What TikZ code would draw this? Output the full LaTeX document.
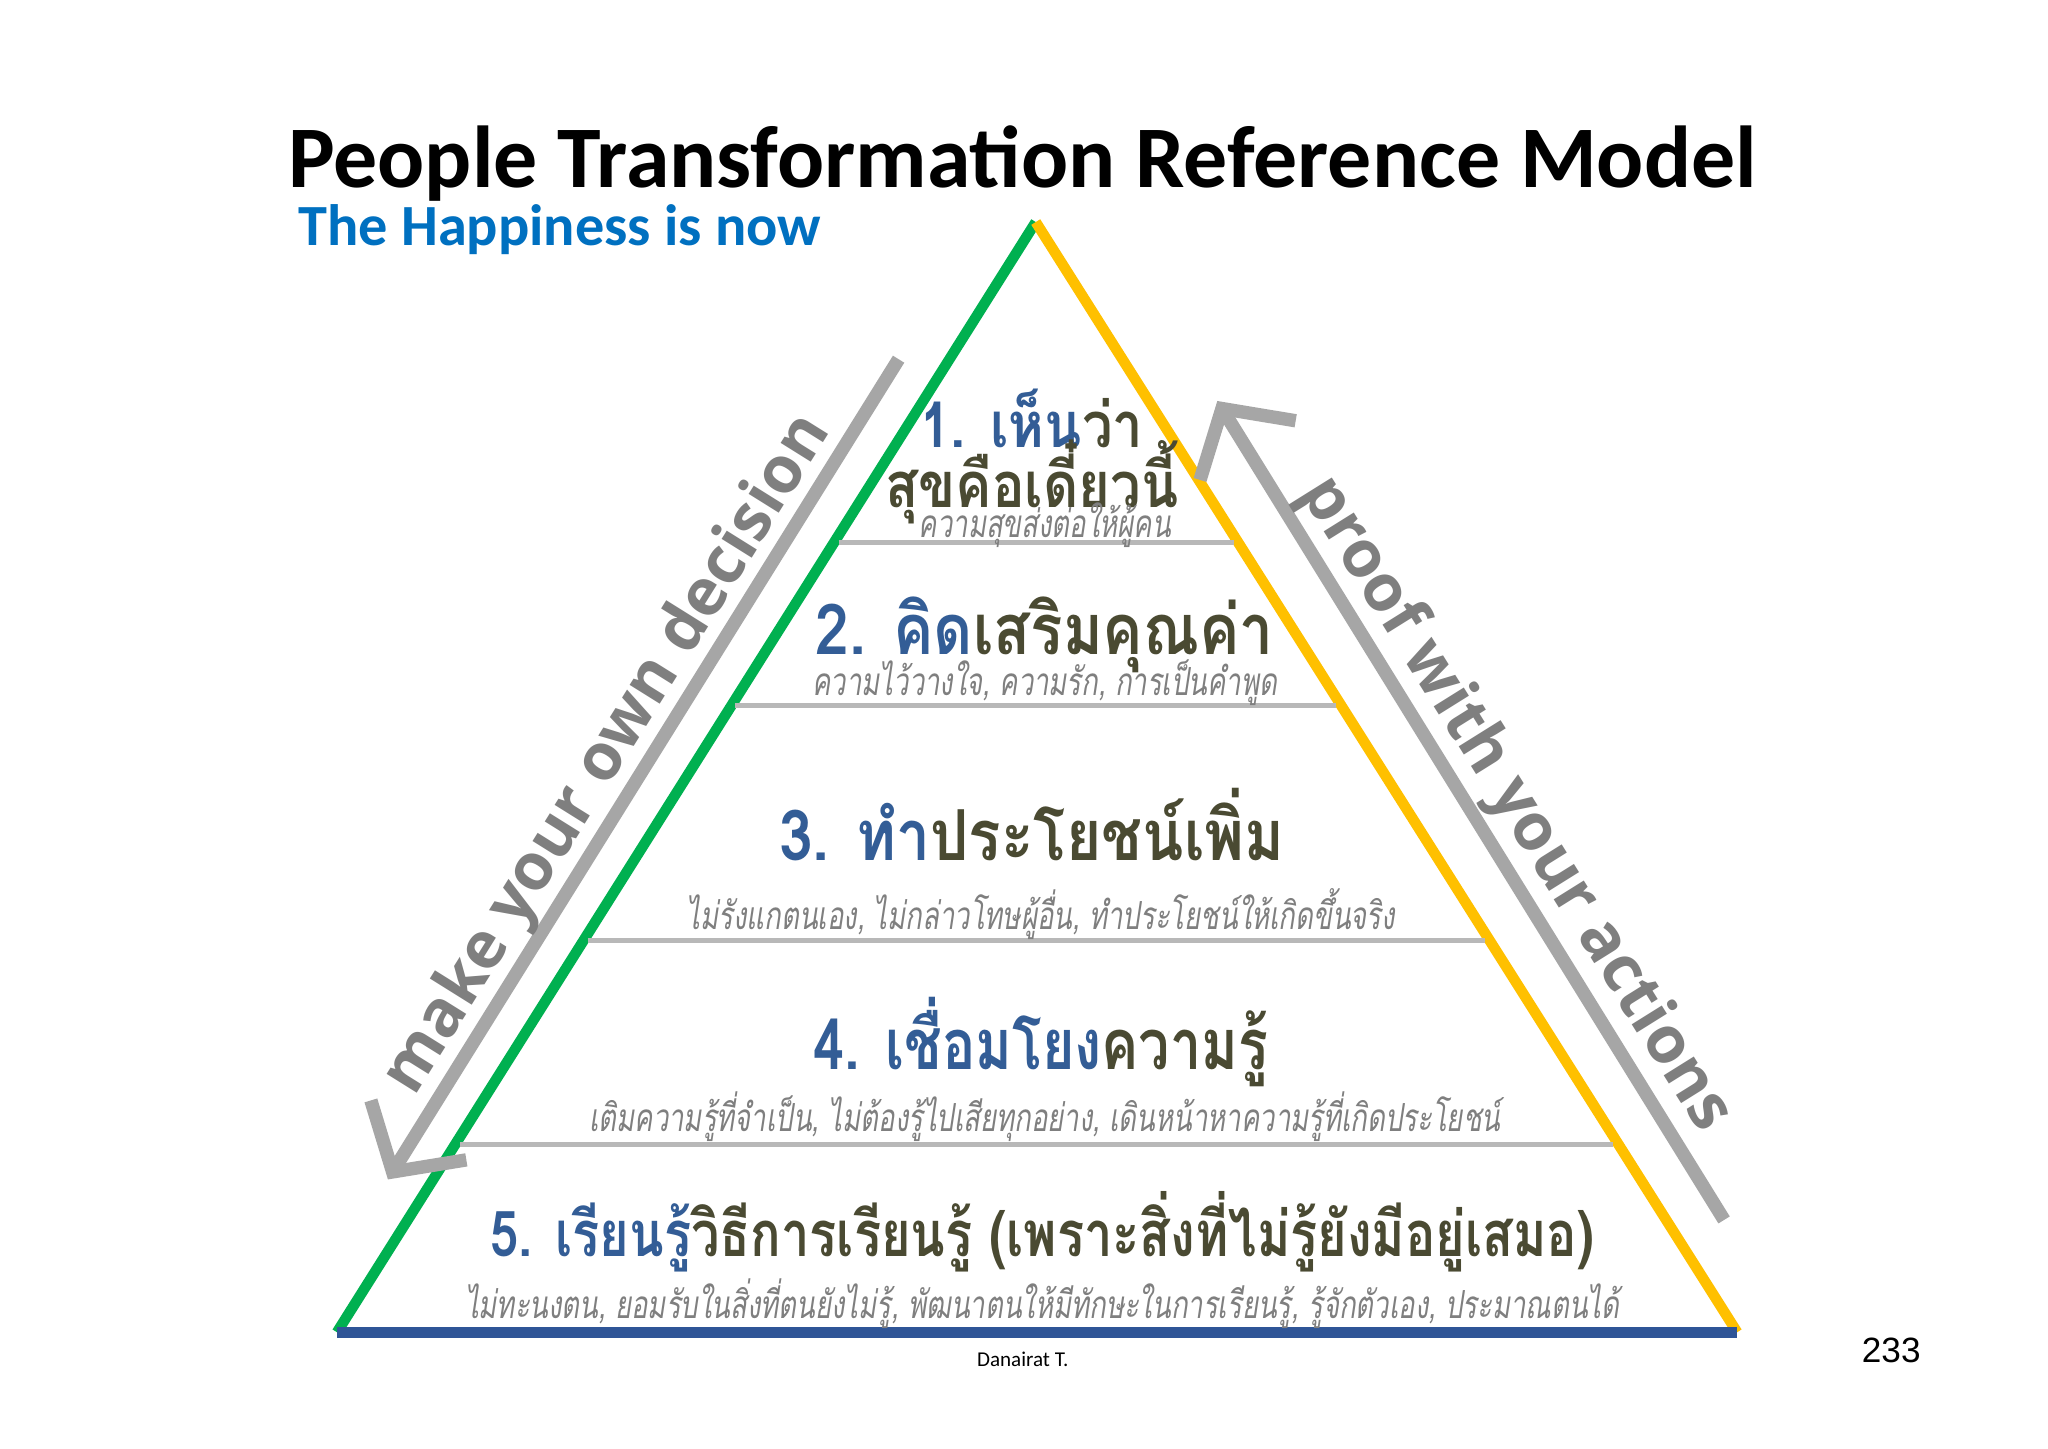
\documentclass[tikz,border=0pt]{standalone}
\usepackage{fontspec}
\setmainfont{Carlito}
\newfontfamily\thai[Script=Thai]{Loma}
\newfontfamily\osans{Open Sans}
\newfontfamily\lsans{Liberation Sans}
\definecolor{tblue}{HTML}{335D96}
\definecolor{tolive}{HTML}{4A4A32}
\definecolor{tgray}{HTML}{7F7F7F}
\definecolor{agray}{HTML}{A6A6A6}
\definecolor{lgreen}{HTML}{00B050}
\definecolor{lyellow}{HTML}{FFC000}
\definecolor{lblue}{HTML}{2F5597}
\definecolor{hblue}{HTML}{0070C0}
\usetikzlibrary{arrows.meta}
\begin{document}
\begin{tikzpicture}[x=0.01306cm,y=-0.01306cm,
  head/.style={font=\thai\bfseries\fontsize{20}{24}\selectfont,text=tolive,inner sep=0,xscale=0.86},
  sub/.style={font=\thai\itshape\fontsize{11}{13}\selectfont,text=tgray,inner sep=0,xscale=0.71},
  sep/.style={draw=agray!80,line width=1.4pt},
  garrow/.style={draw=agray,line width=3.8pt,-{Straight Barb[length=14pt,width=32pt,line width=3.8pt]}},
  side/.style={font=\osans\bfseries\fontsize{18.5}{22}\selectfont,text=tgray,inner sep=0}]
\useasboundingbox (0,0) rectangle (1568,1109);
\fill[white] (0,0) rectangle (1568,1109);
% triangle
\coordinate (A) at (793,170);
\coordinate (L) at (258,1020);
\coordinate (R) at (1330,1020);
\draw[lgreen,line width=3pt] (A) -- (L);
\draw[lyellow,line width=3pt] (A) -- (R);
\draw[lblue,line width=3pt] (L) -- (R);
% separators
\coordinate (s1a) at (642,415); \coordinate (s1b) at (945,415);
\coordinate (s2a) at (563,540); \coordinate (s2b) at (1023,540);
\coordinate (s3a) at (450,720); \coordinate (s3b) at (1137,720);
\coordinate (s4a) at (352,876); \coordinate (s4b) at (1235,876);
\draw[sep] (s1a)--(s1b); \draw[sep] (s2a)--(s2b); \draw[sep] (s3a)--(s3b); \draw[sep] (s4a)--(s4b);
% arrows
\coordinate (la) at (688,275); \coordinate (lb) at (297,903);
\coordinate (ra) at (1320,934); \coordinate (rb) at (932,307);
\draw[garrow] (la) -- (lb);
\draw[garrow] (ra) -- (rb);
\node[side,rotate=58] (ltext) at (466,578) {make your own decision};
\node[side,rotate=-58] (rtext) at (1160,616) {proof with your actions};
% title
\node[font=\bfseries\fontsize{25}{30}\selectfont,inner sep=0] (title) at (783,125) {People Transformation Reference Model};
\node[font=\bfseries\fontsize{16.6}{20}\selectfont,text=hblue,anchor=west,inner sep=0] (subt) at (228,176) {The Happiness is now};
% levels
\node[head,font=\thai\bfseries\fontsize{18}{22}\selectfont] (h1a) at (790,320) {\textcolor{tblue}{1. เห็น}ว่า};
\node[head,font=\thai\bfseries\fontsize{18}{22}\selectfont] (h1b) at (790,369) {สุขคือเดี๋ยวนี้};
\node[sub] (s1) at (800,402) {ความสุขส่งต่อให้ผู้คน};
\node[head] (h2) at (800,486) {\textcolor{tblue}{2. คิด}เสริมคุณค่า};
\node[sub] (st2) at (800,523) {ความไว้วางใจ, ความรัก, การเป็นคำพูด};
\node[head] (h3) at (790,631) {\textcolor{tblue}{3. ทำ}ประโยชน์เพิ่ม};
\node[sub] (st3) at (797,700) {ไม่รังแกตนเอง, ไม่กล่าวโทษผู้อื่น, ทำประโยชน์ให้เกิดขึ้นจริง};
\node[head,xscale=0.92] (h4) at (797,798) {\textcolor{tblue}{4. เชื่อมโยง}ความรู้};
\node[sub] (st4) at (800,855) {เติมความรู้ที่จำเป็น, ไม่ต้องรู้ไปเสียทุกอย่าง, เดินหน้าหาความรู้ที่เกิดประโยชน์};
\node[head,font=\thai\bfseries\fontsize{18}{22}\selectfont,xscale=0.93] (h5) at (798,943) {\textcolor{tblue}{5. เรียนรู้}วิธีการเรียนรู้ (เพราะสิ่งที่ไม่รู้ยังมีอยู่เสมอ)};
\node[sub] (st5) at (798,998) {ไม่ทะนงตน, ยอมรับในสิ่งที่ตนยังไม่รู้, พัฒนาตนให้มีทักษะในการเรียนรู้, รู้จักตัวเอง, ประมาณตนได้};
\node[font=\fontsize{6}{7}\selectfont,inner sep=0] (auth) at (783,1041) {Danairat T.};
\node[font=\lsans\fontsize{10}{12}\selectfont,inner sep=0] (pg) at (1448,1034) {233};
\end{tikzpicture}
\end{document}
